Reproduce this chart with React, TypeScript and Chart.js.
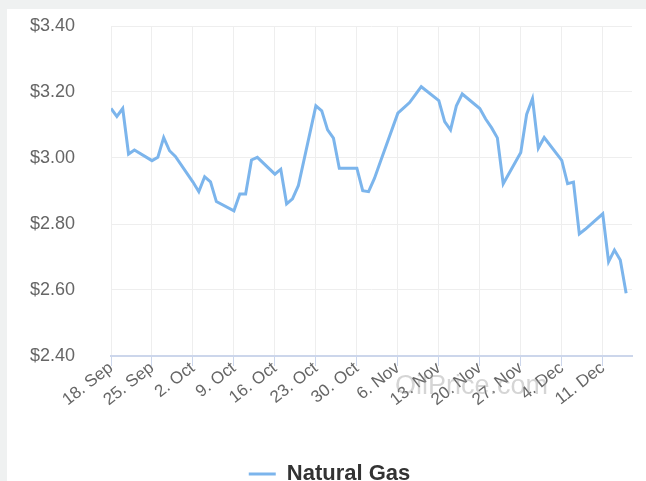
import React, { useEffect, useRef } from 'react';
import { Chart, registerables } from 'chart.js';

Chart.register(...registerables);

const seriesName = 'Natural Gas';

const dates = [
  '09-18', '09-19', '09-20', '09-21', '09-22',
  '09-25', '09-26', '09-27', '09-28', '09-29',
  '10-02', '10-03', '10-04', '10-05', '10-06',
  '10-09', '10-10', '10-11', '10-12', '10-13',
  '10-16', '10-17', '10-18', '10-19', '10-20',
  '10-23', '10-24', '10-25', '10-26', '10-27',
  '10-30', '10-31', '11-01', '11-02', '11-03',
  '11-06', '11-07', '11-08', '11-09', '11-10',
  '11-13', '11-14', '11-15', '11-16', '11-17',
  '11-20', '11-21', '11-22', '11-23', '11-24',
  '11-27', '11-28', '11-29', '11-30', '12-01',
  '12-04', '12-05', '12-06', '12-07', '12-08',
  '12-11', '12-12', '12-13', '12-14', '12-15',
];

const prices = [
  3.150, 3.126, 3.150, 3.012, 3.024,
  2.992, 3.002, 3.062, 3.022, 3.005,
  2.927, 2.898, 2.943, 2.928, 2.868,
  2.840, 2.891, 2.891, 2.994, 3.002,
  2.951, 2.966, 2.861, 2.876, 2.916,
  3.158, 3.143, 3.085, 3.060, 2.969,
  2.969, 2.901, 2.898, 2.938, 2.988,
  3.136, 3.152, 3.168, 3.192, 3.216,
  3.174, 3.110, 3.085, 3.158, 3.194,
  3.150, 3.118, 3.092, 3.061, 2.922,
  3.017, 3.132, 3.180, 3.030, 3.062,
  2.993, 2.922, 2.927, 2.770, 2.784,
  2.831, 2.686, 2.721, 2.691, 2.590,
];

const xTickDates = [
  '09-18', '09-25', '10-02', '10-09', '10-16', '10-23', '10-30',
  '11-06', '11-13', '11-20', '11-27', '12-04', '12-11',
];
const xTickLabels = [
  '18. Sep', '25. Sep', '2. Oct', '9. Oct', '16. Oct', '23. Oct', '30. Oct',
  '6. Nov', '13. Nov', '20. Nov', '27. Nov', '4. Dec', '11. Dec',
];
const yTicks = [2.4, 2.6, 2.8, 3.0, 3.2, 3.4];
const watermarkText = 'OilPrice.com';

const YEAR = 2017;
const START = '09-18';
const END = '12-16';

function dayOf(md: string): number {
  const [m, d] = md.split('-').map(Number);
  const [sm, sd] = START.split('-').map(Number);
  return Math.round((Date.UTC(YEAR, m - 1, d) - Date.UTC(YEAR, sm - 1, sd)) / 86400000);
}

const LINE = '#7cb5ec';
const FONT = '"Liberation Sans", Arial, sans-serif';

export default function App() {
  const ref = useRef<HTMLCanvasElement | null>(null);

  useEffect(() => {
    if (!ref.current) return;
    const tickVals = xTickDates.map(dayOf);

    const watermark = {
      id: 'watermark',
      afterDraw(chart: any) {
        const ctx = chart.ctx;
        ctx.save();
        ctx.font = '27px ' + FONT;
        ctx.fillStyle = 'rgba(150,150,150,0.4)';
        ctx.textAlign = 'left';
        ctx.textBaseline = 'alphabetic';
        ctx.fillText(watermarkText, 388, 385);
        ctx.restore();
      },
    };

    const chart = new Chart(ref.current, {
      type: 'line',
      data: {
        datasets: [
          {
            label: seriesName,
            data: dates.map((d, i) => ({ x: dayOf(d), y: prices[i] })),
            borderColor: LINE,
            backgroundColor: LINE,
            borderWidth: 3,
            pointRadius: 0,
            tension: 0,
            fill: false,
          },
        ],
      },
      options: {
        animation: false,
        responsive: false,
        parsing: false as any,
        layout: { padding: { top: 17, right: 14, left: 20, bottom: -14 } },
        plugins: {
          tooltip: { enabled: false },
          legend: {
            position: 'bottom',
            labels: {
              boxWidth: 27,
              boxHeight: 3,
              padding: 0,
              color: '#333',
              font: { family: FONT, size: 22, weight: 'bold', lineHeight: 1 },
              generateLabels: () => [
                {
                  text: seriesName,
                  fillStyle: LINE,
                  strokeStyle: LINE,
                  lineWidth: 0,
                  hidden: false,
                  datasetIndex: 0,
                  fontColor: '#333',
                } as any,
              ],
            },
          },
        },
        scales: {
          x: {
            type: 'linear',
            min: 0,
            max: dayOf(END),
            afterBuildTicks: (s: any) => {
              s.ticks = tickVals.map((v) => ({ value: v }));
            },
            afterFit: (s: any) => {
              s.height = 107;
            },
            ticks: {
              autoSkip: false,
              maxRotation: 38,
              minRotation: 38,
              color: '#666',
              padding: -8,
              font: { family: FONT, size: 17 },
              callback: (_v: any, i: number) => xTickLabels[i],
            },
            grid: {
              color: '#eeeeee',
              tickColor: '#ccd6eb',
              tickLength: 10,
              drawTicks: true,
            },
            border: { color: '#ccd6eb', width: 2 },
          },
          y: {
            min: 2.4,
            max: 3.4,
            afterBuildTicks: (s: any) => {
              s.ticks = yTicks.map((v) => ({ value: v }));
            },
            afterFit: (s: any) => {
              s.width = 84;
            },
            ticks: {
              color: '#666',
              padding: 0,
              font: { family: FONT, size: 18 },
              callback: (v: any) => '$' + Number(v).toFixed(2),
            },
            grid: {
              color: '#eeeeee',
              drawTicks: true,
              tickLength: 36,
              tickColor: 'rgba(0,0,0,0)',
            },
            border: { display: false },
          },
        },
      },
      plugins: [watermark],
    } as any);

    return () => chart.destroy();
  }, []);

  return (
    <div
      style={{
        position: 'absolute',
        left: 0,
        top: 0,
        width: 646,
        height: 481,
        background: '#eff1f1',
        overflow: 'hidden',
      }}
    >
      <div
        style={{
          position: 'absolute',
          left: 7,
          top: 9,
          width: 639,
          height: 472,
          background: '#ffffff',
        }}
      >
        <canvas ref={ref} width={639} height={472} style={{ display: 'block' }} />
      </div>
    </div>
  );
}
